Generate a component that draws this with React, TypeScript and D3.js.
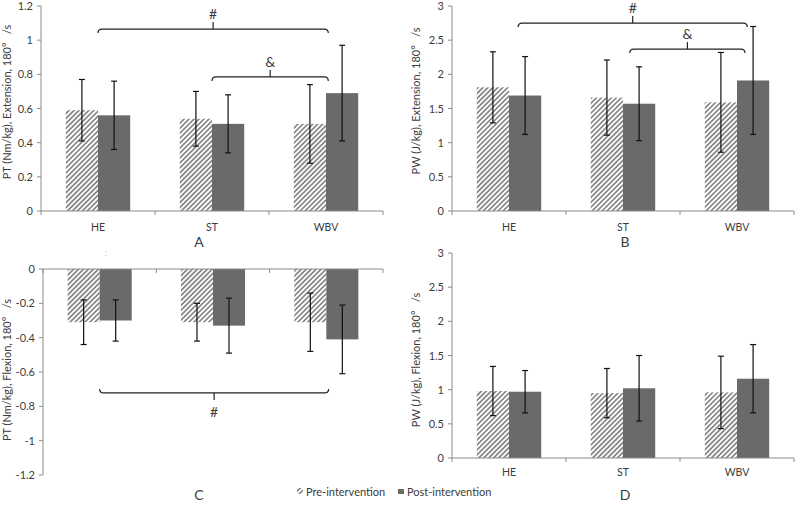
import React from "react";
import * as d3 from "d3";

const categories = ["HE", "ST", "WBV"];
const seriesNames = ["Pre-intervention", "Post-intervention"];

// Panel A: PT extension
const ptExtPre = [0.59, 0.54, 0.51];
const ptExtPreErr = [0.18, 0.16, 0.23];
const ptExtPost = [0.56, 0.51, 0.69];
const ptExtPostErr = [0.2, 0.17, 0.28];
const ptExtTicks = [0, 0.2, 0.4, 0.6, 0.8, 1, 1.2];

// Panel B: PW extension
const pwExtPre = [1.81, 1.66, 1.59];
const pwExtPreErr = [0.52, 0.55, 0.73];
const pwExtPost = [1.69, 1.57, 1.91];
const pwExtPostErr = [0.57, 0.54, 0.79];
const pwTicks = [0, 0.5, 1, 1.5, 2, 2.5, 3];

// Panel C: PT flexion
const ptFlexPre = [-0.31, -0.31, -0.31];
const ptFlexPreErr = [0.13, 0.11, 0.17];
const ptFlexPost = [-0.3, -0.33, -0.41];
const ptFlexPostErr = [0.12, 0.16, 0.2];
const ptFlexTicks = [0, -0.2, -0.4, -0.6, -0.8, -1, -1.2];

// Panel D: PW flexion
const pwFlexPre = [0.98, 0.95, 0.96];
const pwFlexPreErr = [0.36, 0.36, 0.53];
const pwFlexPost = [0.97, 1.02, 1.16];
const pwFlexPostErr = [0.31, 0.48, 0.5];

// significance brackets (category index positions, value level)
const bracketsA = [
  { from: 0, to: 2.02, value: 1.065, label: "#" },
  { from: 1, to: 2.02, value: 0.785, label: "&" },
];
const bracketsB = [
  { from: 0.08, to: 2.09, value: 2.75, label: "#" },
  { from: 1.06, to: 2.07, value: 2.37, label: "&" },
];
const bracketsC = [{ from: 0, to: 2.02, value: -0.722, label: "#", below: true }];

const FONT = "Lato, 'Liberation Sans', sans-serif";
const TXT = "#3c3c3c";
const AXIS = "#8c8c8c";
const POST = "#6a6a6a";

type Bracket = { from: number; to: number; value: number; label: string; below?: boolean };

function Panel(props: {
  x0: number; x1: number; yTop: number; yBot: number;
  domain: [number, number]; ticks: number[];
  pre: number[]; preErr: number[]; post: number[]; postErr: number[];
  title: string; titleX: number; titleY: number; letter: string; letterX: number; letterY: number;
  showCats: boolean; catY: number; brackets: Bracket[];
}) {
  const p = props;
  const y = d3.scaleLinear().domain(p.domain).range([p.yBot, p.yTop]);
  const x = d3.scaleBand().domain(categories).range([p.x0, p.x1]).padding(0);
  const bw = x.bandwidth();
  const gw = bw * 0.565;
  const sub = d3.scaleBand().domain(seriesNames).range([(bw - gw) / 2, (bw + gw) / 2]).padding(0);
  const zeroY = y(0);
  const axisY = p.domain[0] < 0 ? y(0) : p.yBot;
  const series = [
    { name: seriesNames[0], vals: p.pre, errs: p.preErr, fill: "url(#hatch)" },
    { name: seriesNames[1], vals: p.post, errs: p.postErr, fill: POST },
  ];
  const fmt = (v: number) => (Math.round(v * 10) / 10).toString();
  const posX = (f: number) => (x(categories[0]) as number) + bw / 2 + f * bw;
  return (
    <g>
      {series.map((s) =>
        s.vals.map((v, i) => {
          const bx = (x(categories[i]) as number) + (sub(s.name) as number);
          const top = Math.min(y(v), zeroY);
          const h = Math.abs(y(v) - zeroY);
          return <rect key={s.name + i} x={bx} y={top} width={sub.bandwidth()} height={h} fill={s.fill} />;
        })
      )}
      {/* y axis */}
      <line x1={p.x0} x2={p.x0} y1={p.yTop} y2={p.yBot} stroke={AXIS} strokeWidth={1} />
      {p.ticks.map((t) => (
        <g key={t}>
          <line x1={p.x0 - 4} x2={p.x0} y1={y(t)} y2={y(t)} stroke={AXIS} />
          <text x={p.x0 - 8} y={y(t) + 4} textAnchor="end" fontSize={11} fill={TXT} fontFamily={FONT}>
            {fmt(t)}
          </text>
        </g>
      ))}
      {/* x axis */}
      <line x1={p.x0} x2={p.x1} y1={axisY} y2={axisY} stroke={AXIS} strokeWidth={1} />
      {[...categories.map((c) => x(c) as number), p.x1].map((tx, i) => (
        <line key={i} x1={tx} x2={tx} y1={axisY} y2={axisY + 4} stroke={AXIS} />
      ))}
      {p.showCats &&
        categories.map((c) => (
          <text key={c} x={(x(c) as number) + bw / 2} y={p.catY} textAnchor="middle" fontSize={10.5} fill={TXT} fontFamily={FONT}>
            {c}
          </text>
        ))}
      {/* error bars */}
      {series.map((s) =>
        s.vals.map((v, i) => {
          const cx = (x(categories[i]) as number) + (sub(s.name) as number) + sub.bandwidth() / 2;
          const lo = y(v - s.errs[i]);
          const hi = y(v + s.errs[i]);
          return (
            <g key={"e" + s.name + i} stroke="#111" strokeWidth={1.2}>
              <line x1={cx} x2={cx} y1={lo} y2={hi} />
              <line x1={cx - 3} x2={cx + 3} y1={lo} y2={lo} />
              <line x1={cx - 3} x2={cx + 3} y1={hi} y2={hi} />
            </g>
          );
        })
      )}
      {/* brackets */}
      {p.brackets.map((b, i) => {
        const xa = posX(b.from);
        const xb = posX(b.to);
        const xm = (xa + xb) / 2;
        const by = y(b.value);
        const d = b.below ? -1 : 1;
        const path = `M${xa},${by + 4 * d} Q${xa},${by} ${xa + 4},${by} L${xb - 4},${by} Q${xb},${by} ${xb},${by + 4 * d}`;
        return (
          <g key={"b" + i}>
            <path d={path} fill="none" stroke="#222" strokeWidth={1.2} />
            <line x1={xm} x2={xm} y1={by} y2={by - 7 * d} stroke="#222" strokeWidth={1.2} />
            <text x={xm} y={b.below ? by + 24 : by - 10} textAnchor="middle" fontSize={14} fill={TXT} fontFamily={FONT}>
              {b.label}
            </text>
          </g>
        );
      })}
      {/* y title */}
      <text
        transform={`translate(${p.titleX},${p.titleY}) rotate(-90)`}
        textAnchor="middle"
        fontSize={11}
        fill={TXT}
        fontFamily={FONT}
        style={{ whiteSpace: "pre" }}
      >
        {p.title}
      </text>
      <text x={p.letterX} y={p.letterY} textAnchor="middle" fontSize={14} fill={TXT} fontFamily={FONT}>
        {p.letter}
      </text>
    </g>
  );
}

export default function App() {
  return (
    <svg width={797} height={506} style={{ position: "absolute", left: 0, top: 0, background: "#fff" }}>
      <defs>
        <pattern id="hatch" patternUnits="userSpaceOnUse" width={3.5} height={3.5} patternTransform="rotate(45)">
          <rect width={3.5} height={3.5} fill="#fff" />
          <line x1={0.9} y1={0} x2={0.9} y2={3.5} stroke="#858585" strokeWidth={1.7} />
        </pattern>
      </defs>
      <rect width={797} height={506} fill="#fff" />
      <Panel x0={41} x1={383} yTop={6} yBot={211} domain={[0, 1.2]} ticks={ptExtTicks}
        pre={ptExtPre} preErr={ptExtPreErr} post={ptExtPost} postErr={ptExtPostErr}
        title={"PT (Nm/kg), Extension, 180°   /s"} titleX={11} titleY={102} letter="A" letterX={199} letterY={247}
        showCats={true} catY={231} brackets={bracketsA} />
      <Panel x0={452} x1={794} yTop={6} yBot={211} domain={[0, 3]} ticks={pwTicks}
        pre={pwExtPre} preErr={pwExtPreErr} post={pwExtPost} postErr={pwExtPostErr}
        title={"PW (J/kg), Extension, 180°   /s"} titleX={420} titleY={101} letter="B" letterX={625} letterY={247}
        showCats={true} catY={231} brackets={bracketsB} />
      <Panel x0={43} x1={383} yTop={269} yBot={475} domain={[-1.2, 0]} ticks={ptFlexTicks}
        pre={ptFlexPre} preErr={ptFlexPreErr} post={ptFlexPost} postErr={ptFlexPostErr}
        title={"PT (Nm/kg), Flexion, 180°   /s"} titleX={11} titleY={370} letter="C" letterX={199} letterY={500}
        showCats={false} catY={0} brackets={bracketsC} />
      <Panel x0={452} x1={794} yTop={253} yBot={458} domain={[0, 3]} ticks={pwTicks}
        pre={pwFlexPre} preErr={pwFlexPreErr} post={pwFlexPost} postErr={pwFlexPostErr}
        title={"PW (J/kg), Flexion, 180°   /s"} titleX={420} titleY={360} letter="D" letterX={625} letterY={500}
        showCats={true} catY={476} brackets={[]} />
      <text x={106} y={256} textAnchor="middle" fontSize={10} fill="#cfcfcf" fontFamily={FONT}>:</text>
      {/* legend */}
      <g fontFamily={FONT} fontSize={11} fill={TXT}>
        <rect x={297} y={488} width={6} height={6} fill="url(#hatch)" />
        <text x={306} y={496}>{seriesNames[0]}</text>
        <rect x={398} y={489} width={6} height={5} fill={POST} />
        <text x={407} y={496}>{seriesNames[1]}</text>
      </g>
    </svg>
  );
}
